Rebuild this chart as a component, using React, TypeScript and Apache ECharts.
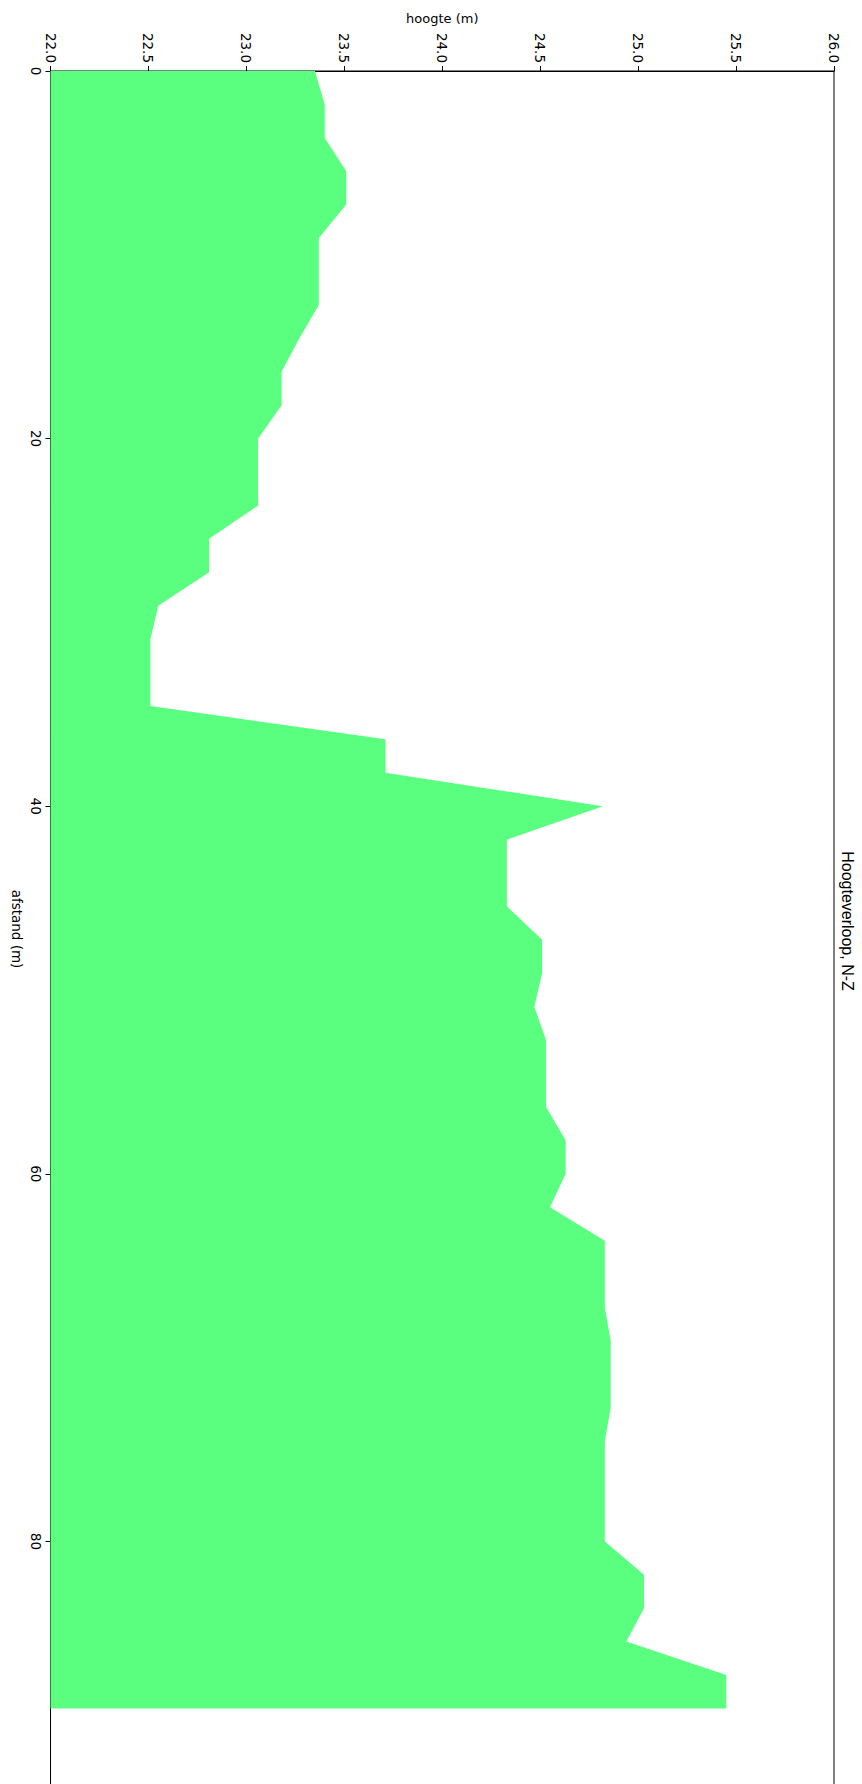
import React, { useEffect, useRef } from "react";
import * as echarts from "echarts";

// afstand (m) along the profile, N -> Z
const distances: number[] = [
  0, 1.82, 3.64, 5.45, 7.27, 9.09, 10.91, 12.73, 14.55, 16.36,
  18.18, 20.0, 21.82, 23.64, 25.45, 27.27, 29.09, 30.91, 32.73, 34.55,
  36.36, 38.18, 40.0, 41.82, 43.64, 45.45, 47.27, 49.09, 50.91, 52.73,
  54.55, 56.36, 58.18, 60.0, 61.82, 63.64, 65.45, 67.27, 69.09, 70.91,
  72.73, 74.55, 76.36, 78.18, 80.0, 81.82, 83.64, 85.45, 87.27, 89.09,
];

// hoogte (m)
const heights: number[] = [
  23.35, 23.4, 23.4, 23.51, 23.51, 23.37, 23.37, 23.37, 23.27, 23.18,
  23.18, 23.06, 23.06, 23.06, 22.81, 22.81, 22.55, 22.51, 22.51, 22.51,
  23.71, 23.71, 24.82, 24.33, 24.33, 24.33, 24.51, 24.51, 24.47, 24.53,
  24.53, 24.53, 24.63, 24.63, 24.55, 24.83, 24.83, 24.83, 24.86, 24.86,
  24.86, 24.83, 24.83, 24.83, 24.83, 25.03, 25.03, 24.94, 25.45, 25.45,
];

const hoogteMin = 22;
const hoogteMax = 26;
const afstandMax = 100;
const titleText = "Hoogteverloop, N-Z";
const xName = "hoogte (m)";
const yName = "afstand (m)";

export default function App() {
  const ref = useRef<HTMLDivElement>(null);

  useEffect(() => {
    if (!ref.current) return;
    const chart = echarts.init(ref.current, undefined, { renderer: "svg" });
    const tickFont = { fontFamily: "DejaVu Sans", fontSize: 13.5, color: "#000" };
    const data = heights.map((h, i) => [h, distances[i]]);

    chart.setOption({
      animation: false,
      backgroundColor: "#fff",
      grid: {
        left: 50.5,
        top: 71,
        width: 783.5,
        height: 1838,
        containLabel: false,
        outerBoundsMode: "none",
        show: true,
        borderColor: "#000",
        borderWidth: 1,
        backgroundColor: "transparent",
      },
      xAxis: {
        type: "value",
        position: "top",
        min: hoogteMin,
        max: hoogteMax,
        interval: 0.5,
        splitLine: { show: false },
        axisLine: { show: true, lineStyle: { color: "#000", width: 1 } },
        axisTick: { show: true, length: 5, lineStyle: { color: "#000" } },
        axisLabel: {
          ...tickFont,
          rotate: -90,
          margin: 8,
          formatter: (v: number) => v.toFixed(1),
        },
        name: xName,
        nameLocation: "middle",
        nameGap: 46,
        nameTextStyle: { fontFamily: "DejaVu Sans", fontSize: 13, color: "#000" },
      },
      yAxis: {
        type: "value",
        inverse: true,
        min: 0,
        max: afstandMax,
        interval: 20,
        splitLine: { show: false },
        axisLine: { show: true, lineStyle: { color: "#000", width: 1 } },
        axisTick: { show: true, length: 5, lineStyle: { color: "#000" } },
        axisLabel: { ...tickFont, rotate: -90, margin: 8, showMaxLabel: false },
      },
      graphic: [
        {
          type: "text",
          x: 847,
          y: 921,
          rotation: -Math.PI / 2,
          style: {
            text: titleText,
            fontSize: 16,
            fontFamily: "Liberation Sans",
            fill: "#000",
            textAlign: "center",
            textVerticalAlign: "middle",
            verticalAlign: "middle",
          },
        },
        {
          type: "text",
          x: 17,
          y: 929,
          rotation: -Math.PI / 2,
          style: {
            text: yName,
            fontSize: 13.5,
            fontFamily: "DejaVu Sans",
            fill: "#000",
            textAlign: "center",
            textVerticalAlign: "middle",
            verticalAlign: "middle",
          },
        },
      ],
      series: [
        {
          type: "custom",
          coordinateSystem: "cartesian2d",
          clip: true,
          data,
          encode: { x: 0, y: 1 },
          renderItem: (params: any, api: any) => {
            if (params.dataIndex !== 0) return null;
            const pts: number[][] = [];
            pts.push(api.coord([hoogteMin, distances[0]]));
            for (let i = 0; i < heights.length; i++) {
              pts.push(api.coord([heights[i], distances[i]]));
            }
            pts.push(api.coord([hoogteMin, distances[distances.length - 1]]));
            return {
              type: "polygon",
              shape: { points: pts },
              style: { fill: "#5aff80", stroke: null },
            };
          },
        },
      ],
    });

    return () => chart.dispose();
  }, []);

  return (
    <div
      style={{
        position: "absolute",
        left: 0,
        top: 0,
        width: 862,
        height: 1784,
        overflow: "hidden",
        background: "#fff",
      }}
    >
      <div ref={ref} style={{ width: 862, height: 1930 }} />
    </div>
  );
}
